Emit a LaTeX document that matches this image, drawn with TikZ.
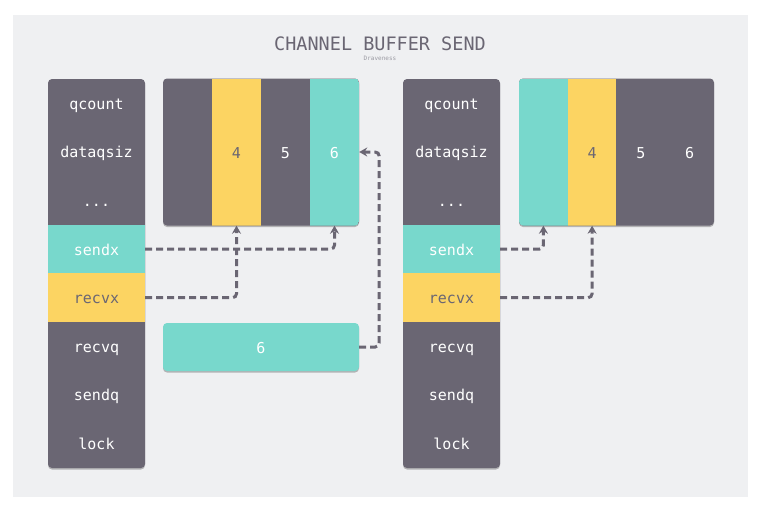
\documentclass[tikz,border=0pt]{standalone}
\usepackage{fontspec}
\setmonofont{DejaVu Sans Mono}
\usetikzlibrary{arrows.meta,shadows}
\definecolor{cdark}{HTML}{6A6673}
\definecolor{cteal}{HTML}{78D8CC}
\definecolor{cyellow}{HTML}{FCD462}
\definecolor{cbg}{HTML}{EFF0F2}
\definecolor{cgrey}{HTML}{9A9AA2}
\begin{document}
\begin{tikzpicture}[x=1pt,y=-1pt,
  lab/.style={font=\ttfamily\fontsize{15}{15}\selectfont,text height=12pt,text depth=0pt},
  shad/.style={drop shadow={shadow xshift=0pt,shadow yshift=-1.5pt,opacity=0.25,fill=black}},
  structbox/.style={draw=none,fill=cdark,rounded corners=4pt,minimum width=97pt,minimum height=389pt,inner sep=0pt,shad},
  bufbox/.style={draw=none,fill=cdark,rounded corners=4pt,minimum width=196pt,minimum height=147pt,inner sep=0pt,shad},
  row/.style={lab,minimum width=97pt,minimum height=48.6pt,inner sep=0pt,text=white},
  col/.style={lab,minimum width=49pt,minimum height=147pt,inner sep=0pt,text=white},
  ptr/.style={draw=cdark,line width=3pt,dash pattern=on 7pt off 4pt,rounded corners=4pt,-{Stealth[length=8pt,width=9pt]}}]
\useasboundingbox (0,0) rectangle (764,504);
\fill[white] (0,0) rectangle (764,504);
\fill[cbg] (13,15) rectangle (748,496.5);

\node[font=\ttfamily\fontsize{18.5}{18.5}\selectfont,text=cdark,inner sep=0pt] (title) at (380,43.5) {CHANNEL BUFFER SEND};
\node[font=\ttfamily\fontsize{6}{6}\selectfont,text=cgrey,inner sep=0pt] (author) at (380,58.5) {Draveness};

% left struct
\node[structbox] (Ls) at (96.5,273.5) {};
\node[row] (Lq) at (96.5,103.3) {qcount};
\node[row] (Ld) at (96.5,151.9) {dataqsiz};
\node[row] (Le) at (96.5,200.5) {...};
\node[row,fill=cteal] (Lsx) at (96.5,249.1) {sendx};
\node[row,fill=cyellow,text=cdark] (Lrx) at (96.5,297.7) {recvx};
\node[row] (Lrq) at (96.5,346.3) {recvq};
\node[row] (Lsq) at (96.5,394.9) {sendq};
\node[row] (Llk) at (96.5,443.5) {lock};

% left buffer
\node[bufbox] (Lb) at (261,152) {};
\begin{scope}
\clip[rounded corners=4pt] (163,78.5) rectangle (359,225.5);
\node[col] (Lc1) at (187.5,152) {};
\node[col,fill=cyellow,text=cdark] (Lc2) at (236.5,152) {4};
\node[col] (Lc3) at (285.5,152) {5};
\node[col,fill=cteal] (Lc4) at (334.5,152) {6};
\end{scope}

% value box
\node[lab,fill=cteal,text=white,rounded corners=4pt,minimum width=196pt,minimum height=48pt,inner sep=0pt,shad] (Bx) at (261,347) {6};

% right struct
\node[structbox] (Rs) at (451.5,273.5) {};
\node[row] (Rq) at (451.5,103.3) {qcount};
\node[row] (Rd) at (451.5,151.9) {dataqsiz};
\node[row] (Re) at (451.5,200.5) {...};
\node[row,fill=cteal] (Rsx) at (451.5,249.1) {sendx};
\node[row,fill=cyellow,text=cdark] (Rrx) at (451.5,297.7) {recvx};
\node[row] (Rrq) at (451.5,346.3) {recvq};
\node[row] (Rsq) at (451.5,394.9) {sendq};
\node[row] (Rlk) at (451.5,443.5) {lock};

% right buffer
\node[bufbox,minimum width=195pt] (Rb) at (616.5,152) {};
\begin{scope}
\clip[rounded corners=4pt] (519,78.5) rectangle (714,225.5);
\node[col,minimum width=48.75pt,fill=cteal] (Rc1) at (543.4,152) {};
\node[col,minimum width=48.75pt,fill=cyellow,text=cdark] (Rc2) at (592.1,152) {4};
\node[col,minimum width=48.75pt] (Rc3) at (640.9,152) {5};
\node[col,minimum width=48.75pt] (Rc4) at (689.6,152) {6};
\end{scope}

% pointers
\draw[ptr] (Lsx.east) -| (Lc4.south);
\draw[ptr] (Lrx.east) -| (Lc2.south);
\draw[ptr] (Bx.east) -- ++(20,0) |- (Lc4.east);
\draw[ptr] (Rsx.east) -| (Rc1.south);
\draw[ptr] (Rrx.east) -| (Rc2.south);
\end{tikzpicture}
\end{document}
